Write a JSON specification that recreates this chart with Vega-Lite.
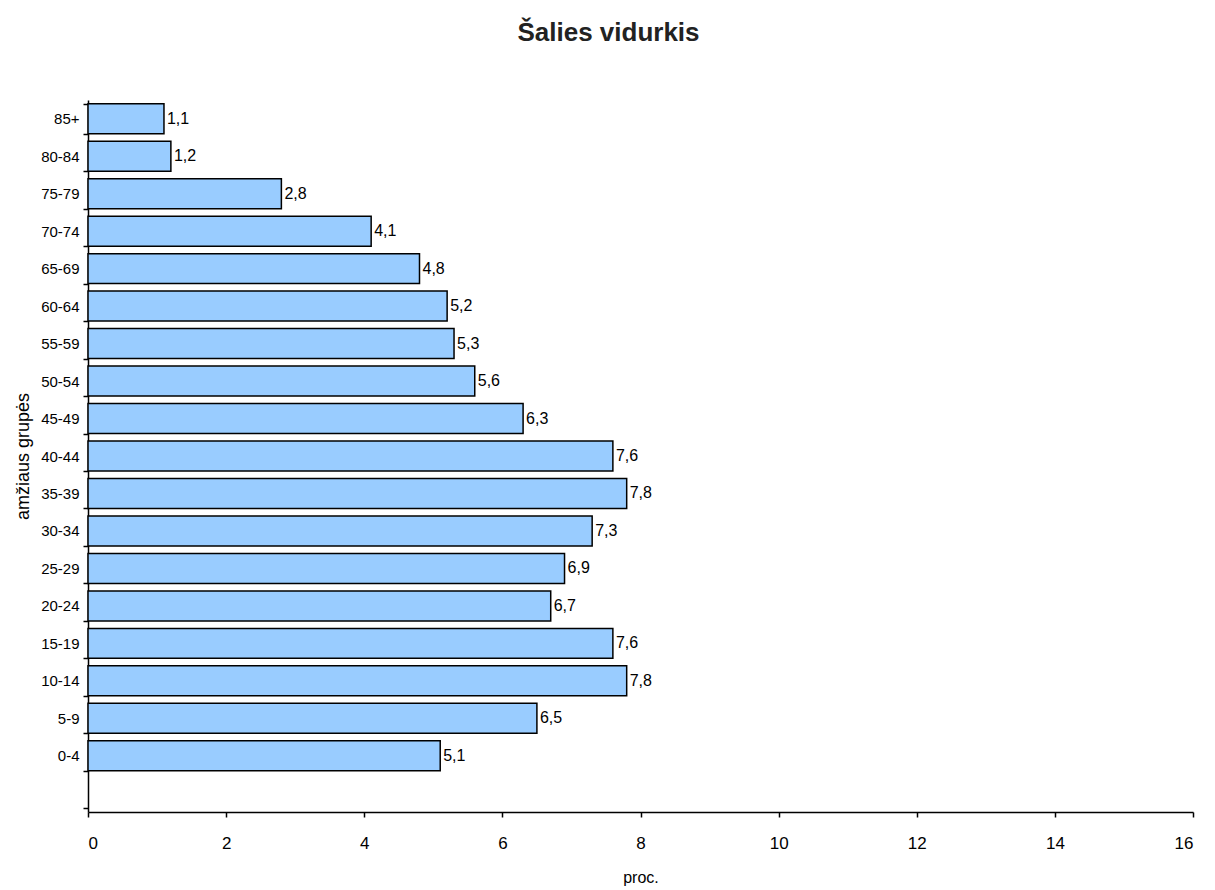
{
  "$schema": "https://vega.github.io/schema/vega-lite/v6.json",
  "width": 1105,
  "height": 712,
  "autosize": "none",
  "padding": {"left": 88, "top": 100, "right": 22, "bottom": 78},
  "background": "white",
  "config": {
    "view": {"stroke": null},
    "font": "Liberation Sans",
    "locale": {"number": {"decimal": ",", "thousands": " ", "grouping": [3], "currency": ["", ""]}}
  },
  "title": {
    "text": "Šalies vidurkis",
    "fontSize": 26,
    "fontWeight": "bold",
    "font": "Liberation Sans",
    "color": "#222",
    "offset": 47,
    "dx": -32
  },
  "data": {
    "values": [
      {"group": "85+", "value": 1.1},
      {"group": "80-84", "value": 1.2},
      {"group": "75-79", "value": 2.8},
      {"group": "70-74", "value": 4.1},
      {"group": "65-69", "value": 4.8},
      {"group": "60-64", "value": 5.2},
      {"group": "55-59", "value": 5.3},
      {"group": "50-54", "value": 5.6},
      {"group": "45-49", "value": 6.3},
      {"group": "40-44", "value": 7.6},
      {"group": "35-39", "value": 7.8},
      {"group": "30-34", "value": 7.3},
      {"group": "25-29", "value": 6.9},
      {"group": "20-24", "value": 6.7},
      {"group": "15-19", "value": 7.6},
      {"group": "10-14", "value": 7.8},
      {"group": "5-9", "value": 6.5},
      {"group": "0-4", "value": 5.1}
    ]
  },
  "encoding": {
    "y": {
      "field": "group",
      "type": "nominal",
      "scale": {
        "domain": ["85+", "80-84", "75-79", "70-74", "65-69", "60-64", "55-59", "50-54", "45-49", "40-44", "35-39", "30-34", "25-29", "20-24", "15-19", "10-14", "5-9", "0-4", "blank"],
        "paddingInner": 0.2,
        "paddingOuter": 0.1
      },
      "axis": {
        "title": "amžiaus grupės",
        "titleFontSize": 18,
        "titleFontWeight": "normal",
        "titleColor": "#000",
        "titlePadding": 8,
        "labelExpr": "datum.value == 'blank' ? '' : datum.label",
        "labelFontSize": 15,
        "labelColor": "#000",
        "labelPadding": 4,
        "tickBand": "extent",
        "tickSize": 5,
        "tickColor": "#000",
        "domainColor": "#000",
        "domainWidth": 1.5,
        "tickWidth": 1.5,
        "grid": false
      }
    },
    "x": {
      "field": "value",
      "type": "quantitative",
      "scale": {"domain": [0, 16], "nice": false},
      "axis": {
        "title": "proc.",
        "titleFontSize": 16,
        "titleFontWeight": "normal",
        "titleColor": "#000",
        "titlePadding": 18,
        "values": [0, 2, 4, 6, 8, 10, 12, 14, 16],
        "format": "d",
        "labelFontSize": 17,
        "labelColor": "#000",
        "labelPadding": 18,
        "tickSize": 5,
        "tickColor": "#000",
        "domainColor": "#000",
        "domainWidth": 1.5,
        "tickWidth": 1.5,
        "grid": false
      }
    }
  },
  "layer": [
    {
      "mark": {"type": "bar", "color": "#99CCFF", "stroke": "#000", "strokeWidth": 1.5}
    },
    {
      "mark": {"type": "text", "align": "left", "baseline": "middle", "dx": 3, "fontSize": 16, "color": "#000"},
      "encoding": {
        "text": {"field": "value", "type": "quantitative", "format": ".1f"}
      }
    }
  ]
}
